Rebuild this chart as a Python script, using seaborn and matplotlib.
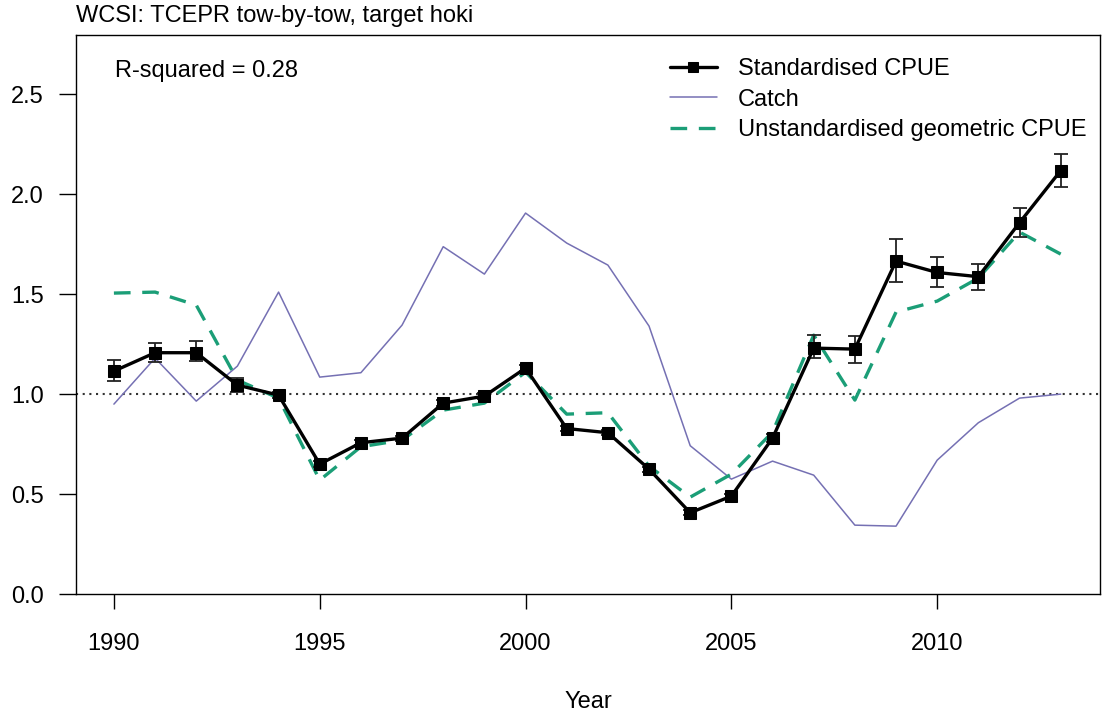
import matplotlib

matplotlib.use("Agg")
import matplotlib.pyplot as plt
import numpy as np
import pandas as pd
import seaborn as sns

# --- Data ---
years = list(range(1990, 2014))

std_cpue = [1.115, 1.207, 1.207, 1.045, 0.995, 0.65, 0.757, 0.78, 0.955, 0.99,
            1.13, 0.828, 0.807, 0.625, 0.407, 0.49, 0.78, 1.23, 1.225, 1.665,
            1.608, 1.587, 1.857, 2.117]
std_lower = [1.067, 1.162, 1.165, 1.012, 0.98, 0.635, 0.745, 0.768, 0.94, 0.975,
             1.115, 0.815, 0.795, 0.612, 0.395, 0.478, 0.76, 1.18, 1.157, 1.56,
             1.533, 1.52, 1.783, 2.037]
std_upper = [1.17, 1.257, 1.265, 1.08, 1.01, 0.665, 0.77, 0.792, 0.97, 1.005,
             1.145, 0.84, 0.82, 0.638, 0.42, 0.502, 0.8, 1.295, 1.29, 1.773,
             1.687, 1.648, 1.932, 2.2]
catch = [0.95, 1.18, 0.965, 1.14, 1.51, 1.085, 1.107, 1.345, 1.737, 1.60,
         1.905, 1.755, 1.645, 1.34, 0.742, 0.575, 0.665, 0.595, 0.345, 0.34,
         0.67, 0.857, 0.98, 1.0]
unstd_cpue = [1.505, 1.51, 1.445, 1.07, 0.98, 0.57, 0.737, 0.77, 0.92, 0.955,
              1.11, 0.90, 0.907, 0.64, 0.485, 0.60, 0.81, 1.295, 0.97, 1.41,
              1.465, 1.58, 1.81, 1.70]

x_ticks = [1990, 1995, 2000, 2005, 2010]
y_ticks = [0.0, 0.5, 1.0, 1.5, 2.0, 2.5]

df = pd.DataFrame({
    "Year": years,
    "std": std_cpue,
    "lower": std_lower,
    "upper": std_upper,
    "catch": catch,
    "unstd": unstd_cpue,
})

# --- Style ---
sns.set_style("ticks")
plt.rcParams["font.family"] = ["Liberation Sans", "DejaVu Sans"]
plt.rcParams["font.size"] = 17
plt.rcParams["text.color"] = "black"
plt.rcParams["axes.labelcolor"] = "black"
plt.rcParams["xtick.color"] = "black"
plt.rcParams["ytick.color"] = "black"

fig = plt.figure(figsize=(11.02, 7.15), dpi=100)
ax = fig.add_axes([0.069, 0.169, 0.929, 0.782])

ax.axhline(1.0, color="#333333", linestyle=(0, (1, 2.2)), linewidth=1.5, zorder=1)

sns.lineplot(data=df, x="Year", y="catch", ax=ax, color="#7570B3",
             linewidth=1.1, label="Catch", zorder=2)
sns.lineplot(data=df, x="Year", y="unstd", ax=ax, color="#1B9E77",
             linewidth=2.4, dashes=False, label="Unstandardised geometric CPUE",
             zorder=3)
ax.lines[-1].set_linestyle((0, (5, 3.5)))

yerr = np.array([df["std"] - df["lower"], df["upper"] - df["std"]])
ax.errorbar(df["Year"], df["std"], yerr=yerr, fmt="none", ecolor="#222222",
            elinewidth=1.3, capsize=5, capthick=1.3, zorder=4)
sns.lineplot(data=df, x="Year", y="std", ax=ax, color="black", linewidth=2.4,
             marker="s", markersize=9, markeredgecolor="black",
             label="Standardised CPUE", zorder=5)

# --- Axes ---
ax.set_xlim(1989.08, 2013.95)
ax.set_ylim(0, 2.795)
ax.set_xticks(x_ticks)
ax.set_yticks(y_ticks)
ax.set_yticklabels([f"{v:.1f}" for v in y_ticks])
ax.tick_params(axis="x", length=11, width=1, pad=17, labelsize=17)
ax.tick_params(axis="y", length=12, width=1, pad=11, labelsize=17)
ax.set_xlabel("Year", fontsize=17, labelpad=26)
ax.set_ylabel("")
for side in ["top", "right", "left", "bottom"]:
    ax.spines[side].set_visible(True)
    ax.spines[side].set_linewidth(1.0)
    ax.spines[side].set_color("black")

ax.text(0.038, 0.955, "R-squared = 0.28", transform=ax.transAxes, fontsize=17,
        va="top", ha="left")
fig.text(0.069, 0.962, "WCSI: TCEPR tow-by-tow, target hoki", fontsize=17,
         va="bottom", ha="left")

# legend order: standardised, catch, unstandardised
handles, labels = ax.get_legend_handles_labels()
order = [labels.index("Standardised CPUE"), labels.index("Catch"),
         labels.index("Unstandardised geometric CPUE")]
leg = ax.legend([handles[i] for i in order], [labels[i] for i in order],
                loc="upper right", bbox_to_anchor=(1.008, 0.997), frameon=False,
                fontsize=17, handlelength=2.0, handletextpad=0.9,
                labelspacing=0.37, markerscale=0.8)

fig.savefig("out.png", dpi=100)
